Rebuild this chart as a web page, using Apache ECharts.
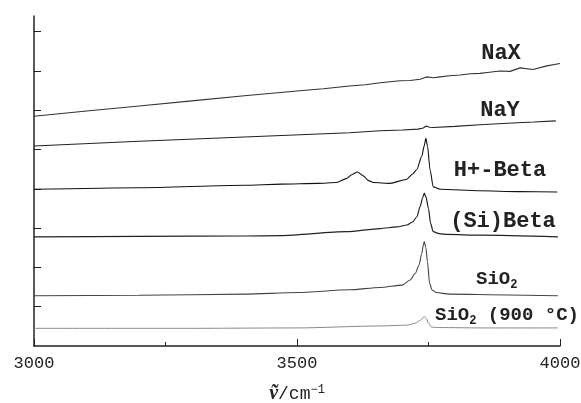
<!DOCTYPE html>
<html>
<head>
<meta charset="utf-8">
<script src="https://cdn.jsdelivr.net/npm/echarts@6/dist/echarts.min.js"></script>
<style>html,body{margin:0;padding:0;background:#fff}#c{width:581px;height:403px}</style>
</head>
<body>
<div id="c"></div>
<script>
// x-axis ticks / y ticks
const xTickValues = [3000, 3500, 4000];
const yTickValues = [1, 2, 3, 4, 5, 6, 7, 8];

// NaX
const naxWn = [3000, 3100, 3200, 3300, 3400, 3500, 3550, 3600, 3630, 3658, 3696, 3715, 3734, 3746, 3760, 3772, 3790, 3810, 3830, 3848, 3866, 3886, 3905, 3924, 3949, 3975, 4000];
const naxVal = [5.85, 5.98, 6.11, 6.24, 6.37, 6.49, 6.55, 6.62, 6.65, 6.70, 6.75, 6.76, 6.79, 6.85, 6.83, 6.85, 6.88, 6.90, 6.93, 6.94, 6.97, 7.00, 6.99, 7.08, 7.04, 7.13, 7.19];

// NaY
const nayWn = [3000, 3200, 3400, 3600, 3658, 3700, 3730, 3740, 3746, 3752, 3759, 3800, 3848, 3900, 3950, 3992];
const nayVal = [5.09, 5.21, 5.32, 5.43, 5.48, 5.50, 5.52, 5.55, 5.60, 5.57, 5.56, 5.59, 5.63, 5.67, 5.70, 5.73];

// H+-Beta
const hbWn = [3000, 3200, 3400, 3470, 3540, 3575, 3594, 3604, 3615, 3626, 3636, 3645, 3677, 3708, 3720, 3728, 3737, 3742, 3745, 3748, 3753, 3759, 3772, 3848, 3920, 3995];
const hbVal = [3.99, 4.03, 4.09, 4.12, 4.14, 4.16, 4.26, 4.36, 4.43, 4.33, 4.21, 4.16, 4.14, 4.24, 4.38, 4.50, 4.82, 5.10, 5.29, 5.10, 4.48, 4.05, 3.99, 3.95, 3.93, 3.92];

// (Si)Beta
const sbWn = [3000, 3200, 3400, 3468, 3594, 3658, 3690, 3709, 3720, 3728, 3734, 3739, 3742, 3745, 3750, 3754, 3759, 3770, 3785, 3850, 3996];
const sbVal = [2.78, 2.79, 2.80, 2.81, 2.91, 2.99, 3.03, 3.08, 3.16, 3.29, 3.55, 3.78, 3.89, 3.80, 3.50, 3.12, 2.91, 2.86, 2.84, 2.82, 2.78];

// SiO2
const siWn = [3000, 3200, 3400, 3500, 3600, 3658, 3700, 3715, 3725, 3732, 3737, 3740, 3742, 3745, 3748, 3752, 3757, 3765, 3790, 3900, 3996];
const siVal = [1.28, 1.29, 1.32, 1.36, 1.43, 1.49, 1.55, 1.68, 1.85, 2.06, 2.35, 2.55, 2.66, 2.50, 2.15, 1.60, 1.42, 1.36, 1.32, 1.30, 1.28];

// SiO2 (900 °C)
const si9Wn = [3000, 3300, 3500, 3658, 3710, 3725, 3735, 3742, 3746, 3750, 3756, 3770, 3850, 3996];
const si9Val = [0.45, 0.45, 0.46, 0.51, 0.53, 0.58, 0.66, 0.75, 0.70, 0.58, 0.48, 0.47, 0.46, 0.46];

const pairs = (w, v) => w.map((x, i) => [x, v[i]]);

const chart = echarts.init(document.getElementById('c'), null, {renderer: 'canvas'});

function line(name, w, v, color, width, smooth) {
  return {
    name, type: 'line', data: pairs(w, v), showSymbol: false, symbol: 'none',
    smooth: smooth, smoothMonotone: 'x',
    lineStyle: {color, width}, animation: false, silent: true
  };
}

const labelFont = 'Liberation Mono';
const labStyle = (text, x, y, fs) => ({
  type: 'text', x, y,
  style: {text, font: `bold ${fs}px "${labelFont}"`, fill: '#222', align: 'center', verticalAlign: 'middle'}
});
const subLabel = (text, x, y) => ({
  type: 'text', x, y,
  style: {
    text, fill: '#222', align: 'left', verticalAlign: 'middle',
    rich: {
      a: {fontFamily: labelFont, fontWeight: 'bold', fontSize: 19, lineHeight: 24, verticalAlign: 'middle', fill: '#222'},
      b: {fontFamily: labelFont, fontWeight: 'bold', fontSize: 12, lineHeight: 12, verticalAlign: 'bottom', fill: '#222'}
    }
  }
});

chart.setOption({
  animation: false,
  grid: {left: 34, right: 21, top: 16, bottom: 57, containLabel: false, outerBoundsMode: 'none'},
  xAxis: {
    type: 'value', min: 3000, max: 4000, interval: 500,
    axisLine: {show: true, onZero: false, lineStyle: {color: '#222', width: 1.5}},
    axisTick: {show: true, inside: true, length: 7, lineStyle: {color: '#222', width: 1}},
    minorTick: {show: true, splitNumber: 2, length: 4, lineStyle: {color: '#222', width: 1}},
    splitLine: {show: false},
    axisLabel: {
      color: '#222', fontFamily: labelFont, fontSize: 17, margin: 9,
      customValues: xTickValues, formatter: v => String(v)
    },
    name: '{v|ṽ}{t|/cm}{s|−1}',
    nameLocation: 'middle', nameGap: 38,
    nameTextStyle: {
      rich: {
        v: {fontFamily: 'Liberation Serif', fontStyle: 'italic', fontWeight: 'bold', fontSize: 20, lineHeight: 20, color: '#222'},
        t: {fontFamily: labelFont, fontSize: 18, lineHeight: 20, color: '#222'},
        s: {fontFamily: labelFont, fontSize: 12, lineHeight: 11, verticalAlign: 'top', color: '#222'}
      }
    }
  },
  yAxis: {
    type: 'value', min: 0, max: 8.4,
    axisLine: {show: true, onZero: false, lineStyle: {color: '#222', width: 1.5}},
    axisTick: {show: true, inside: true, length: 7, customValues: yTickValues, lineStyle: {color: '#222', width: 1}},
    axisLabel: {show: false},
    splitLine: {show: false}
  },
  series: [
    line('NaX', naxWn, naxVal, '#333', 1.1, false),
    line('NaY', nayWn, nayVal, '#222', 1.1, false),
    line('H+-Beta', hbWn, hbVal, '#111', 1.1, 0.25),
    line('(Si)Beta', sbWn, sbVal, '#222', 1.2, 0.25),
    line('SiO2', siWn, siVal, '#444', 1.1, 0.25),
    line('SiO2 (900 °C)', si9Wn, si9Val, '#888', 1, 0.25)
  ],
  graphic: [
    labStyle('NaX', 501, 53, 22),
    labStyle('NaY', 500, 110, 22),
    labStyle('H+-Beta', 500, 170, 22),
    labStyle('(Si)Beta', 503, 221, 22),
    subLabel('{a|SiO}{b|2}', 476, 279),
    subLabel('{a|SiO}{b|2}{a| (900 °C)}', 435, 315)
  ]
});
</script>
</body>
</html>
